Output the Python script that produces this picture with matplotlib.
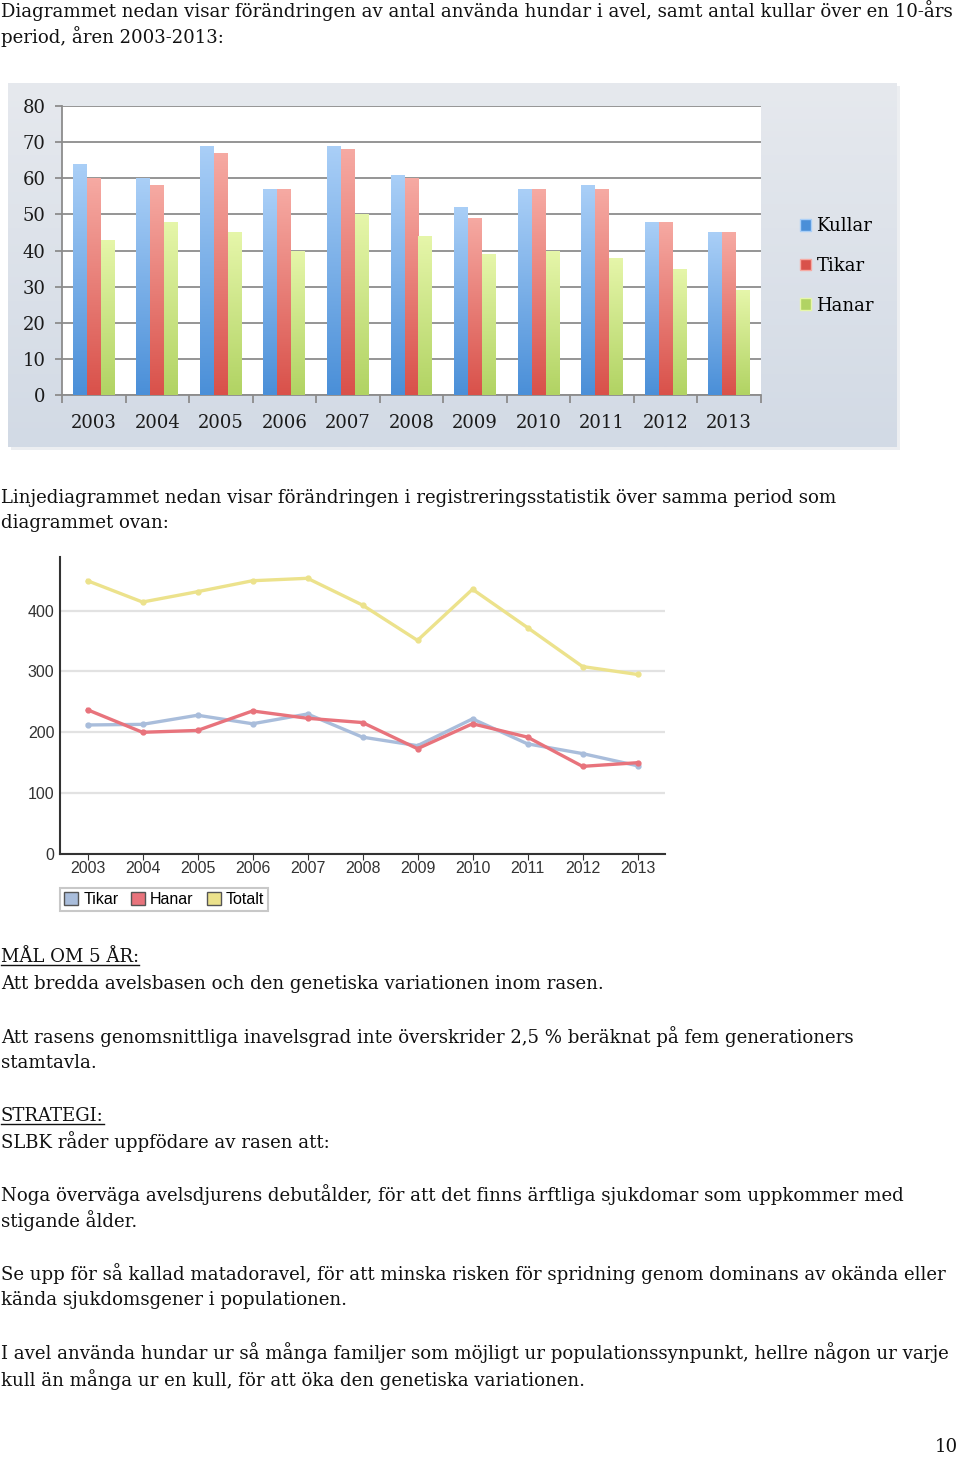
import numpy as np
import matplotlib
matplotlib.use("Agg")
import matplotlib.pyplot as plt
from matplotlib.patches import Patch, Rectangle
from matplotlib.lines import Line2D
from matplotlib.colors import LinearSegmentedColormap

# ---------------- data ----------------
years = ["2003", "2004", "2005", "2006", "2007", "2008", "2009", "2010", "2011", "2012", "2013"]
kullar = [64, 60, 69, 57, 69, 61, 52, 57, 58, 48, 45]
tikar_bar = [60, 58, 67, 57, 68, 60, 49, 57, 57, 48, 45]
hanar_bar = [43, 48, 45, 40, 50, 44, 39, 40, 38, 35, 29]
bar_labels = ["Kullar", "Tikar", "Hanar"]

tikar_reg = [212, 213, 228, 214, 230, 192, 178, 222, 181, 165, 145]
hanar_reg = [237, 200, 203, 235, 223, 216, 173, 214, 192, 144, 150]
totalt_reg = [449, 414, 431, 449, 453, 409, 351, 435, 372, 308, 295]
line_labels = ["Tikar", "Hanar", "Totalt"]

W, H = 960, 1457
fig = plt.figure(figsize=(W / 100, H / 100), dpi=100)
fig.patch.set_facecolor("white")

SERIF = ["DejaVu Serif"]
SANS = ["Liberation Sans", "DejaVu Sans"]


def rect(x0, y0, x1, y1):
    return [x0 / W, 1 - y1 / H, (x1 - x0) / W, (y1 - y0) / H]


# ---------------- background panel of bar chart (with soft shadow) ----------------
fig.add_artist(Rectangle((11 / W, 1 - 450 / H), (889 / W), (364 / H),
                         transform=fig.transFigure, facecolor="#eceef1", edgecolor="none",
                         zorder=0))
bg = fig.add_axes(rect(8, 83, 897, 447), zorder=0)
grad = np.linspace(0, 1, 256).reshape(-1, 1)
bg_cmap = LinearSegmentedColormap.from_list("bg", ["#e6e9ee", "#d2dae5"])
bg.imshow(grad, aspect="auto", cmap=bg_cmap, extent=[0, 1, 0, 1], origin="upper")
bg.set_axis_off()

# ---------------- bar chart ----------------
ax = fig.add_axes(rect(62, 106, 761, 395), zorder=1)
ax.set_facecolor("white")
x = np.arange(len(years))
bw = 0.22
series = [kullar, tikar_bar, hanar_bar]
grads = [("#aacff7", "#4a8fd8"), ("#f6aaa3", "#d9514a"), ("#e6f6aa", "#b1d363")]
for i, (vals, (ctop, cbot)) in enumerate(zip(series, grads)):
    bars = ax.bar(x + (i - 1) * bw, vals, bw, color=cbot, zorder=3, linewidth=0)
    cmap = LinearSegmentedColormap.from_list("g%d" % i, [ctop, cbot])
    for b in bars:
        bx, by = b.get_x(), b.get_y()
        bwid, bh = b.get_width(), b.get_height()
        im = ax.imshow(grad, aspect="auto", cmap=cmap, origin="upper",
                       extent=[bx, bx + bwid, by, by + bh], zorder=4)
        im.set_clip_path(b)
ax.set_xlim(-0.5, len(years) - 0.5)
ax.set_ylim(0, 80)
ax.set_yticks(np.arange(0, 81, 10))
ax.yaxis.grid(True, color="#8c8c8c", linewidth=1.3, zorder=1)
ax.set_axisbelow(True)
ax.set_xticks(x)
ax.set_xticklabels(years, fontsize=13, family=SERIF, color="#1a1a1a")
ax.set_xticks(np.arange(-0.5, len(years)), minor=True)
ax.tick_params(axis="x", which="major", length=0, pad=14)
ax.tick_params(axis="x", which="minor", length=6, color="#8c8c8c", width=1.3)
ax.tick_params(axis="y", length=5, color="#8c8c8c", width=1.3, labelsize=13, pad=7,
               labelcolor="#1a1a1a")
for lab in ax.get_yticklabels():
    lab.set_family(SERIF)
for s in ["top", "right"]:
    ax.spines[s].set_visible(False)
for s in ["left", "bottom"]:
    ax.spines[s].set_color("#8c8c8c")
    ax.spines[s].set_linewidth(1.3)

handles = [Patch(facecolor=c[1], edgecolor=c[0], linewidth=1) for c in grads]
fig.legend(handles, bar_labels, loc="upper left", bbox_to_anchor=(784 / W, 1 - 201 / H),
           frameon=False, prop={"family": SERIF, "size": 13}, handlelength=0.6,
           handleheight=0.6, handletextpad=0.3, labelspacing=1.2)

# ---------------- line chart ----------------
ax2 = fig.add_axes(rect(60, 557, 665, 854), zorder=1)
lcolors = ["#a9bddb", "#e8737c", "#ece28c"]
lseries = [tikar_reg, hanar_reg, totalt_reg]
for vals, c in zip(lseries, lcolors):
    ax2.plot(x, vals, color=c, linewidth=2.4, marker="o", markersize=3.5, zorder=3)
ax2.set_xlim(-0.5, len(years) - 0.5)
ax2.set_ylim(0, 488)
ax2.set_yticks([0, 100, 200, 300, 400])
ax2.yaxis.grid(True, color="#e2e2e2", linewidth=1.6, zorder=0)
ax2.set_axisbelow(True)
ax2.set_xticks(x)
ax2.set_xticklabels(years)
ax2.tick_params(axis="x", length=4, color="#333333", labelsize=11.5, labelcolor="#333333", pad=1)
ax2.tick_params(axis="y", length=0, labelsize=11.5, labelcolor="#333333", pad=4)
for lab in ax2.get_xticklabels() + ax2.get_yticklabels():
    lab.set_family(SANS)
for s in ["top", "right"]:
    ax2.spines[s].set_visible(False)
for s in ["left", "bottom"]:
    ax2.spines[s].set_color("#333333")
    ax2.spines[s].set_linewidth(1.5)

lh = [Patch(facecolor=c, edgecolor="#555555", linewidth=1) for c in lcolors]
leg = fig.legend(lh, line_labels, loc="upper left", bbox_to_anchor=(60 / W, 1 - 888 / H), ncol=3,
                 frameon=True, fancybox=False, prop={"family": SANS, "size": 11.5},
                 handlelength=0.9, handleheight=0.9, handletextpad=0.3, columnspacing=0.8,
                 borderpad=0.25, borderaxespad=0)
leg.get_frame().set_edgecolor("#bbbbbb")
leg.get_frame().set_linewidth(1.5)

# ---------------- body text ----------------
FS = 13.05
text_lines = [
    (11, "Diagrammet nedan visar förändringen av antal använda hundar i avel, samt antal kullar över en 10-års", False),
    (37, "period, åren 2003-2013:", False),
    (498, "Linjediagrammet nedan visar förändringen i registreringsstatistik över samma period som", False),
    (523, "diagrammet ovan:", False),
    (957, "MÅL OM 5 ÅR:", True),
    (984, "Att bredda avelsbasen och den genetiska variationen inom rasen.", False),
    (1037, "Att rasens genomsnittliga inavelsgrad inte överskrider 2,5 % beräknat på fem generationers", False),
    (1063, "stamtavla.", False),
    (1116, "STRATEGI:", True),
    (1142, "SLBK råder uppfödare av rasen att:", False),
    (1195, "Noga överväga avelsdjurens debutålder, för att det finns ärftliga sjukdomar som uppkommer med", False),
    (1221, "stigande ålder.", False),
    (1274, "Se upp för så kallad matadoravel, för att minska risken för spridning genom dominans av okända eller", False),
    (1300, "kända sjukdomsgener i populationen.", False),
    (1353, "I avel använda hundar ur så många familjer som möjligt ur populationssynpunkt, hellre någon ur varje", False),
    (1380, "kull än många ur en kull, för att öka den genetiska variationen.", False),
]
txts = []
for yy, s, ul in text_lines:
    t = fig.text(1 / W, 1 - yy / H, s, ha="left", va="center", fontsize=FS,
                 family=SERIF, color="#111111")
    txts.append((t, ul))
fig.text(958 / W, 1 - 1447 / H, "10", ha="right", va="center", fontsize=FS, family=SERIF,
         color="#111111")

fig.canvas.draw()
r = fig.canvas.get_renderer()
for t, ul in txts:
    if ul:
        bb = t.get_window_extent(r)
        yline = bb.y0 + 1
        fig.add_artist(Line2D([bb.x0 / W, bb.x1 / W], [yline / H, yline / H],
                              color="#111111", linewidth=1.0, transform=fig.transFigure))

fig.savefig("out.png", dpi=100, facecolor="white")
